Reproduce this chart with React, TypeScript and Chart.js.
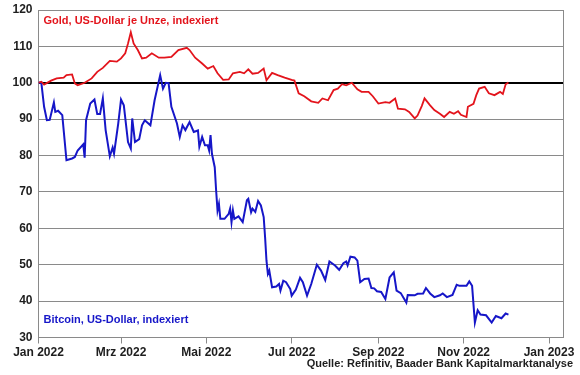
import React, { useEffect, useRef } from "react";
import { Chart, registerables } from "chart.js";

Chart.register(...registerables);

// Days since 1 Jan 2022
const goldDays = [0, 2, 4, 9, 13, 18, 20, 24, 26, 28, 33, 38, 42, 46, 51, 56, 59, 62, 64, 66, 68, 71, 74, 77, 81, 86, 90, 95, 100, 106, 108, 112, 117, 121, 125, 128, 132, 136, 139, 144, 147, 150, 153, 157, 161, 163, 167, 171, 176, 181, 183, 186, 190, 195, 200, 203, 207, 211, 214, 217, 220, 224, 228, 231, 236, 239, 243, 248, 251, 255, 257, 262, 265, 269, 271, 274, 276, 280, 283, 287, 290, 294, 297, 300, 302, 306, 307, 311, 313, 315, 319, 322, 326, 330, 332, 334, 336];
const goldValues = [100, 100.3, 99.5, 100.6, 101.2, 101.4, 102.1, 102.3, 99.8, 99.3, 100, 101.2, 103, 104.1, 106, 105.8, 106.7, 108.1, 110.8, 113.9, 110.8, 109, 106.7, 106.9, 108.1, 106.9, 106.9, 107.1, 109, 109.6, 109, 106.9, 105.3, 103.9, 104.6, 102.6, 100.8, 100.9, 102.6, 103, 102.6, 103.7, 102.5, 102.7, 103.9, 100.7, 102.7, 102.1, 101.4, 100.8, 100.6, 97.1, 96.3, 94.9, 94.5, 95.7, 95.2, 98, 98.4, 99.6, 99.3, 100, 98.2, 97.5, 97.5, 96.3, 94.3, 94.7, 94.5, 95.7, 92.9, 92.7, 92, 90.2, 91, 93.6, 95.7, 93.8, 92.5, 91.5, 90.6, 92, 91.5, 92.2, 91.2, 90.6, 93.4, 94.2, 96.6, 98.4, 98.9, 97.1, 96.6, 97.5, 96.9, 99.6, 100.1];

const btcDays = [0, 2, 4, 6, 8, 11, 12, 14, 17, 20, 24, 26, 28, 32, 33, 34, 37, 40, 42, 44, 46, 48, 51, 53, 54, 57, 59, 61, 64, 66, 67, 69, 72, 74, 76, 80, 83, 87, 89, 91, 93, 95, 99, 101, 103, 105, 108, 111, 114, 115, 117, 119, 121, 122, 123, 124, 126, 127, 128, 129, 130, 133, 136, 137, 138, 139, 140, 143, 146, 149, 150, 152, 153, 155, 157, 159, 161, 162, 163, 164, 165, 167, 170, 172, 173, 175, 177, 180, 181, 184, 187, 189, 192, 195, 199, 202, 205, 208, 212, 215, 218, 220, 221, 223, 226, 228, 230, 233, 236, 238, 240, 242, 245, 248, 251, 254, 256, 259, 263, 264, 269, 271, 275, 277, 280, 283, 287, 289, 292, 296, 299, 301, 306, 308, 310, 312, 314, 316, 320, 324, 327, 331, 334, 336];
const btcValues = [100, 100.1, 93.4, 89.7, 89.8, 94.6, 92, 92.3, 91.1, 78.7, 79.2, 79.6, 81.4, 83.1, 79.4, 89.7, 94.3, 95.4, 91.4, 91.4, 95.7, 87, 79.8, 82.2, 80.5, 88.8, 95.4, 93.8, 83.7, 81.9, 90.2, 83.7, 84.5, 88.3, 89.7, 88.3, 95.2, 102.1, 98.4, 100, 99.9, 93.4, 88.8, 85.1, 88.3, 87, 89.2, 86.5, 86.9, 82.4, 85.1, 82.8, 82.8, 81.4, 85.6, 80.5, 76.8, 70.4, 64.9, 66.7, 62.6, 62.6, 64, 65.4, 61.7, 64.9, 62.6, 63.3, 61.7, 67.7, 68.1, 64.4, 65.4, 64.5, 67.5, 66.3, 63.1, 57.6, 51.1, 47.5, 48.4, 43.8, 44, 44.7, 42.9, 45.6, 45.2, 43.3, 41.5, 43.2, 46.4, 45.2, 41.5, 44.7, 50, 48.4, 45.8, 50.9, 49.8, 48.6, 50.4, 50.9, 49.8, 52.2, 52, 51.1, 45.2, 46.1, 46.2, 43.6, 43.5, 42.7, 42.5, 40.6, 46.5, 47.9, 42.9, 42.2, 39.6, 41.7, 41.6, 42, 42.1, 43.6, 42.1, 41.1, 41.6, 42.1, 41.1, 41.7, 44.5, 44.2, 44.2, 45.4, 44.2, 34.1, 37.5, 36.3, 36.1, 34.1, 35.9, 35.3, 36.6, 36.3];

const xTickDays = [0, 59, 120, 181, 243, 304, 365];
const xTickLabels = ["Jan 2022", "Mrz 2022", "Mai 2022", "Jul 2022", "Sep 2022", "Nov 2022", "Jan 2023"];

const goldLabel = "Gold, US-Dollar je Unze, indexiert";
const btcLabel = "Bitcoin, US-Dollar, indexiert";
const sourceLabel = "Quelle: Refinitiv, Baader Bank Kapitalmarktanalyse";

const GOLD = "#e3141c";
const BTC = "#1616c8";
const GRID = "#8a8a8a";
const TXT = "#1e1e1e";
const FONT = "'Liberation Sans', Arial, sans-serif";

export default function App() {
  const ref = useRef<HTMLCanvasElement | null>(null);
  useEffect(() => {
    document.body.style.margin = "0";
    const textPlugin = {
      id: "texts",
      afterDraw(chart: any) {
        const { ctx, chartArea } = chart;
        ctx.save();
        ctx.strokeStyle = GRID;
        ctx.lineWidth = 1;
        ctx.beginPath();
        ctx.moveTo(chartArea.right + 0.5, chartArea.top);
        ctx.lineTo(chartArea.right + 0.5, chartArea.bottom);
        ctx.stroke();
        ctx.font = `bold 11px ${FONT}`;
        ctx.textBaseline = "middle";
        ctx.textAlign = "left";
        ctx.fillStyle = GOLD;
        ctx.fillText(goldLabel, chartArea.left + 5, 21);
        ctx.fillStyle = BTC;
        ctx.fillText(btcLabel, chartArea.left + 5, 320);
        ctx.fillStyle = TXT;
        ctx.textAlign = "right";
        ctx.fillText(sourceLabel, 573, 364);
        ctx.restore();
      },
    };
    const chart = new Chart(ref.current!, {
      type: "line",
      data: {
        datasets: [
          {
            label: "Gold",
            data: goldDays.map((d, i) => ({ x: d, y: goldValues[i] })),
            borderColor: GOLD,
            borderWidth: 1.8,
            pointRadius: 0,
            tension: 0,
          },
          {
            label: "Bitcoin",
            data: btcDays.map((d, i) => ({ x: d, y: btcValues[i] })),
            borderColor: BTC,
            borderWidth: 2,
            pointRadius: 0,
            tension: 0,
          },
        ],
      },
      options: {
        animation: false,
        responsive: false,
        maintainAspectRatio: false,
        layout: { padding: { top: 10, right: 17, left: 0, bottom: 0 } },
        plugins: { legend: { display: false }, tooltip: { enabled: false } },
        scales: {
          x: {
            type: "linear",
            min: 0,
            max: 375,
            afterBuildTicks: (scale: any) => {
              scale.ticks = xTickDays.map((v) => ({ value: v }));
            },
            afterFit: (scale: any) => {
              scale.height = 37.5;
            },
            ticks: {
              autoSkip: false,
              maxRotation: 0,
              padding: 2,
              color: TXT,
              font: { family: FONT, size: 12, weight: "bold" },
              callback: (v: any) => {
                const i = xTickDays.indexOf(Number(v));
                return i >= 0 ? xTickLabels[i] : "";
              },
            },
            grid: { drawOnChartArea: false, drawTicks: true, tickLength: 6, color: GRID },
            border: { display: true, color: GRID, width: 1 },
          },
          y: {
            min: 30,
            max: 120,
            afterFit: (scale: any) => {
              scale.width = 38.5;
              scale.paddingTop = 0;
              scale.paddingBottom = 0;
            },
            ticks: {
              stepSize: 10,
              padding: 6,
              color: TXT,
              font: { family: FONT, size: 12, weight: "bold" },
            },
            grid: {
              drawTicks: false,
              color: (c: any) => (c.tick && c.tick.value === 100 ? "#000000" : GRID),
              lineWidth: (c: any) => (c.tick && c.tick.value === 100 ? 2 : 1),
            },
            border: { display: true, color: GRID, width: 1 },
          },
        },
      },
      plugins: [textPlugin],
    });
    return () => chart.destroy();
  }, []);
  return (
    <div style={{ position: "absolute", left: 0, top: 0, width: 580, height: 375, background: "#fff" }}>
      <canvas ref={ref} width={580} height={375} style={{ width: 580, height: 375 }} />
    </div>
  );
}
